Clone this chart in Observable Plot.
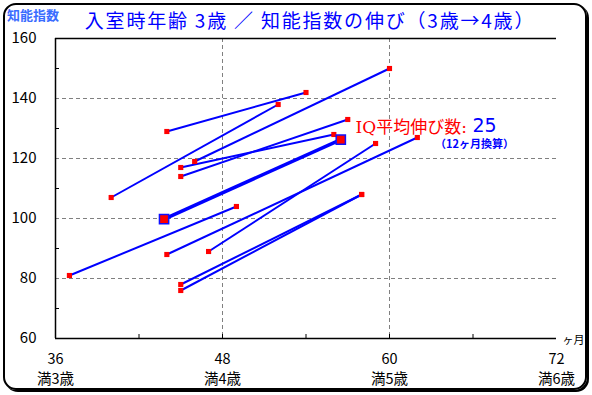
<!DOCTYPE html>
<html><head><meta charset="utf-8">
<script src="https://cdn.jsdelivr.net/npm/d3@7"></script>
<script src="https://cdn.jsdelivr.net/npm/@observablehq/plot@0.6"></script>
<style>
html,body{margin:0;padding:0;background:#fff;}
#wrap{position:relative;width:592px;height:395px;overflow:hidden;background:#fff;}
#frame{position:absolute;left:3px;top:3px;width:580px;height:383px;border:2px solid #000;border-radius:13px;box-shadow:2px 2px 0 #000;}
#title{position:absolute;left:0;width:620px;top:6px;text-align:center;color:#0000ff;font:19px "Noto Sans CJK JP";letter-spacing:1.8px;white-space:nowrap;}
#ylab{position:absolute;left:7px;top:5px;color:#3a6cff;font:bold 13px "Noto Sans CJK JP";}
svg{position:absolute;left:0;top:0;overflow:visible;}
</style></head>
<body><div id="wrap"><div id="frame"></div><div id="ylab"></div><div id="title"></div></div>
<script>
const titleText = "入室時年齢 3歳 ／ 知能指数の伸び（3歳→4歳）";
const yAxisTitle = "知能指数";
const xUnit = "ヶ月";
// each child: start (month, IQ) -> end (month, IQ)
const startMonth = [37, 40, 44, 44, 45, 45, 45, 45, 46, 47];
const startIQ    = [81, 107, 129, 88, 117, 114, 78, 76, 119, 89];
const endMonth   = [49, 52, 54, 62, 56, 57, 58, 58, 60, 59];
const endIQ      = [104, 138, 142, 127, 128, 133, 108, 108, 150, 125];
// average
const meanStart = [43.8, 99.8];
const meanEnd = [56.5, 126.3];
const yTicks = [60, 80, 100, 120, 140, 160];
const yMinor = [70, 90, 110, 130, 150];
const yGrid = [80, 100, 120, 140];
const xTicks = [36, 48, 60, 72];
const xTickLabels = ["36\n満3歳", "48\n満4歳", "60\n満5歳", "72\n満6歳"];
const xMinor = [42, 48, 54, 60, 66];
const xGrid = [48, 60];
const annoRed = "IQ平均伸び数:";
const annoBlue = "25";
const annoNote = "（12ヶ月換算）";

document.getElementById("title").textContent = titleText;
document.getElementById("ylab").textContent = yAxisTitle;

const kids = startMonth.map((m, i) => ({x1: m, y1: startIQ[i], x2: endMonth[i], y2: endIQ[i]}));
const mean = [{x1: meanStart[0], y1: meanStart[1], x2: meanEnd[0], y2: meanEnd[1]}];
const pts = kids.flatMap(d => [{x: d.x1, y: d.y1}, {x: d.x2, y: d.y2}]);
const meanPts = [{x: meanStart[0], y: meanStart[1]}, {x: meanEnd[0], y: meanEnd[1]}];
const font = "'Noto Sans CJK JP', sans-serif";

const chart = Plot.plot({
  width: 592, height: 395,
  marginLeft: 55, marginRight: 36, marginTop: 38, marginBottom: 57,
  x: {domain: [36, 72]},
  y: {domain: [60, 160]},
  style: {fontFamily: font, background: "transparent", color: "#000", overflow: "visible"},
  marks: [
    Plot.ruleY(yGrid, {stroke: "#808080", strokeDasharray: "4,3", strokeWidth: 1}),
    Plot.ruleX(xGrid, {stroke: "#808080", strokeDasharray: "4,3", strokeWidth: 1}),
    Plot.ruleY([160, 60], {stroke: "#000", strokeWidth: 1.5}),
    Plot.ruleX([36], {stroke: "#000", strokeWidth: 1.5}),
    Plot.axisY(yMinor, {tickSize: 4, dx: 4, tickFormat: () => "", stroke: "#000"}),
    Plot.axisY(yTicks, {tickSize: 0, tickPadding: 19, fontSize: 15, fill: "#000", label: null}),
    Plot.axisX(xMinor, {tickSize: 4, dy: -4, tickFormat: () => "", stroke: "#000", label: null}),
    Plot.axisX(xTicks, {tickSize: 0, tickPadding: 11, fontSize: 14.5, lineHeight: 1.38, fill: "#000",
      tickFormat: (d, i) => xTickLabels[i], label: null}),
    Plot.text([xUnit], {frameAnchor: "bottom-right", dx: 28, dy: 5, textAnchor: "end", fontSize: 11, fill: "#000"}),
    Plot.link(kids, {x1: "x1", y1: "y1", x2: "x2", y2: "y2", stroke: "#0000ff", strokeWidth: 2}),
    Plot.link(mean, {x1: "x1", y1: "y1", x2: "x2", y2: "y2", stroke: "#0000ff", strokeWidth: 3.5}),
    Plot.dot(pts, {x: "x", y: "y", symbol: "square", r: 2.9, fill: "#ff0000", stroke: "none"}),
    Plot.dot(meanPts, {x: "x", y: "y", symbol: "square", r: 5.2, fill: "#ff0000", stroke: "#1010ff", strokeWidth: 1.5}),
    Plot.text([annoRed], {frameAnchor: "top-left", dx: 300, dy: 82, textAnchor: "start", fontSize: 17,
      fill: "#ff0000", fontFamily: "'DejaVu Serif', 'Noto Sans CJK JP', serif"}),
    Plot.text([annoBlue], {frameAnchor: "top-left", dx: 417, dy: 80, textAnchor: "start", fontSize: 19,
      fill: "#0000ff", fontFamily: "'DejaVu Sans', sans-serif"}),
    Plot.text([annoNote], {frameAnchor: "top-left", dx: 419, dy: 102, textAnchor: "middle", fontSize: 11,
      fontWeight: "bold", fill: "#0000ff"})
  ]
});
document.getElementById("wrap").appendChild(chart);
</script></body></html>
